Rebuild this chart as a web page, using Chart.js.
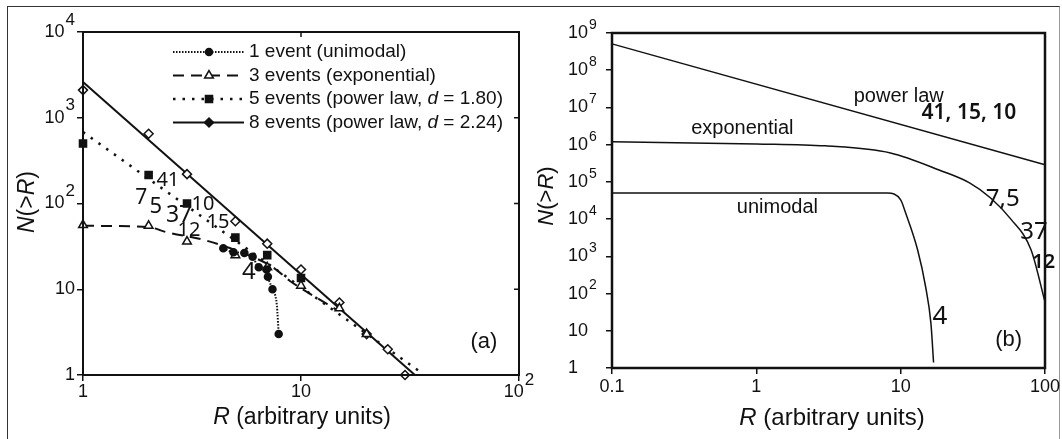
<!DOCTYPE html>
<html>
<head>
<meta charset="utf-8">
<title>N(&gt;R) vs R</title>
<script src="https://cdn.jsdelivr.net/npm/chart.js@4.4.1/dist/chart.umd.min.js"></script>
<style>
  html, body { margin: 0; padding: 0; background: #fff; }
  body { width: 1062px; height: 439px; position: relative; overflow: hidden; }
  #frame { position: absolute; left: 7px; top: 6px; width: 1053px; height: 470px;
           border-left: 1.5px solid #333; border-top: 1.5px solid #333; border-right: 1px solid #999; box-sizing: border-box; }
  canvas { position: absolute; left: 0; top: 0; }
</style>
</head>
<body>
<div id="frame"></div>
<canvas id="chartA" width="1062" height="439"></canvas>
<canvas id="chartB" width="1062" height="439"></canvas>
<script>
// ---- panel (a): measured N(>R) ----
const oneEventR = [4.4, 4.9, 5.5, 6.0, 6.4, 6.95, 7.05, 7.4, 7.9];
const oneEventN = [30, 27, 26.5, 24, 18, 17, 14, 10, 3];
// dotted curve through the 1-event points
const oneCurveR = [4.4, 4.9, 5.5, 6.0, 6.4, 6.95, 7.05, 7.4, 7.75, 7.9];
const oneCurveN = [30, 27, 26.5, 24, 18, 17, 14, 10, 6.5, 3];

const threeEventR = [1, 2, 3, 5, 7, 10, 15, 20];
const threeEventN = [56, 55, 36, 25, 18, 11, 6, 3];
const threeFitR = [1, 2, 2.4, 3.6, 5.1, 7.4, 8.9, 13.2, 14.5];
const threeFitN = [55, 53, 46.5, 37.5, 28, 18.2, 12.5, 6.7, 5.8];

const fiveEventR = [1, 2, 3, 5, 7, 10];
const fiveEventN = [500, 215, 100, 40, 25, 13.5];
const fiveFitR = [1, 35];
const fiveFitN = [680, 1.1];

const eightEventR = [1, 2, 3, 5, 7, 10, 15, 20, 25, 30];
const eightEventN = [2100, 650, 220, 62, 34, 17, 7, 3, 2, 1];
const eightFitR = [1, 33.3];
const eightFitN = [2610, 1];

const legendLabels = ['1 event (unimodal)', '3 events (exponential)',
  '5 events (power law, d = 1.80)', '8 events (power law, d = 2.24)'];

// ---- panel (b): model curves ----
const powerR = [0.1, 100];
const powerN = [5.1e8, 2.9e5];
const expoR = [0.1, 1, 3, 8.5, 19, 30, 42, 58, 80, 100];
const expoN = [1.19e6, 1.05e6, 9.3e5, 6.0e5, 2.0e5, 9.4e4, 3.7e4, 1.0e4, 1.5e3, 60];
const uniR = [0.1, 1, 8.1, 10, 10.8, 13.1, 14.9, 16.2, 16.9];
const uniN = [5e4, 5e4, 5e4, 3.3e4, 1.5e4, 1.5e3, 150, 16, 1.4];

// ---- ticks ----
const aTicksX = [1, 10, 100];
const aTickLabelsX = [['1'], ['10'], ['10', '2']];
const aTicksY = [1, 10, 100, 1000, 10000];
const aTickLabelsY = [['1'], ['10'], ['10', '2'], ['10', '3'], ['10', '4']];
const bTicksX = [0.1, 1, 10, 100];
const bTickLabelsX = [['0.1'], ['1'], ['10'], ['100']];
const bTicksY = [1, 10, 1e2, 1e3, 1e4, 1e5, 1e6, 1e7, 1e8, 1e9];
const bTickLabelsY = [['1'], ['10'], ['10', '2'], ['10', '3'], ['10', '4'], ['10', '5'],
  ['10', '6'], ['10', '7'], ['10', '8'], ['10', '9']];

const INK = '#111';
const TEXT_FONT = '"Liberation Sans", Arial, sans-serif';
const DIGIT_FONT = '"Noto Sans", "Open Sans", sans-serif';

function pts(xs, ys) {
  return xs.map((x, i) => ({ x: x, y: ys[i] }));
}

function setFont(ctx, size, family, italic, weight) {
  ctx.font = (italic ? 'italic ' : '') + (weight || 'normal') + ' ' + size + 'px ' + family;
}

// pieces: [[text, italic], ...]
function drawRich(ctx, pieces, x, y, size, family, align) {
  let total = 0;
  const widths = pieces.map(([t, it]) => {
    setFont(ctx, size, family, it);
    const w = ctx.measureText(t).width;
    total += w;
    return w;
  });
  let cx = align === 'center' ? x - total / 2 : align === 'right' ? x - total : x;
  ctx.textAlign = 'left';
  ctx.textBaseline = 'middle';
  pieces.forEach(([t, it], i) => {
    setFont(ctx, size, family, it);
    ctx.fillText(t, cx, y);
    cx += widths[i];
  });
}

function drawTickLabel(ctx, parts, x, y, align, cfg) {
  const base = parts[0], sup = parts[1];
  setFont(ctx, cfg.tickSize, TEXT_FONT);
  const wb = ctx.measureText(base).width;
  setFont(ctx, cfg.supSize, TEXT_FONT);
  const ws = sup ? ctx.measureText(sup).width + 1 : 0;
  const total = wb + ws;
  const x0 = align === 'right' ? x - total : align === 'center' ? x - total / 2 : x;
  ctx.textAlign = 'left';
  ctx.textBaseline = 'middle';
  setFont(ctx, cfg.tickSize, TEXT_FONT);
  ctx.fillText(base, x0, y);
  if (sup) {
    setFont(ctx, cfg.supSize, TEXT_FONT);
    ctx.fillText(sup, x0 + wb + 1, y - cfg.supRise);
  }
}

function drawMarker(ctx, ds, x, y, fill) {
  ctx.save();
  ctx.fillStyle = fill || ds.pointBackgroundColor;
  ctx.strokeStyle = ds.pointBorderColor;
  ctx.lineWidth = ds.pointBorderWidth;
  ctx.setLineDash([]);
  if (Chart.helpers && Chart.helpers.drawPoint) {
    Chart.helpers.drawPoint(ctx, { pointStyle: ds.pointStyle, radius: ds.pointRadius, rotation: 0, borderWidth: ds.pointBorderWidth }, x, y);
  } else {
    ctx.beginPath(); ctx.arc(x, y, ds.pointRadius, 0, Math.PI * 2); ctx.fill(); ctx.stroke();
  }
  ctx.restore();
}

// frame, tick labels, titles, notes and legend
function makeDecor(cfg) {
  return {
    id: 'decor' + cfg.name,
    afterDraw(chart) {
      const ctx = chart.ctx, a = chart.chartArea;
      const xs = chart.scales.x, ys = chart.scales.y;
      ctx.save();
      ctx.strokeStyle = INK;
      ctx.lineWidth = cfg.frameWidth;
      ctx.strokeRect(a.left, a.top, a.right - a.left, a.bottom - a.top);

      if (cfg.innerTicks) {
        ctx.lineWidth = 1.5;
        ctx.beginPath();
        cfg.yTicks.slice(1, -1).forEach(v => {
          const py = ys.getPixelForValue(v);
          ctx.moveTo(a.right, py); ctx.lineTo(a.right - 5, py);
        });
        cfg.xTicks.slice(1, -1).forEach(v => {
          const px = xs.getPixelForValue(v);
          ctx.moveTo(px, a.top); ctx.lineTo(px, a.top + 5);
        });
        ctx.stroke();
      }

      ctx.fillStyle = INK;
      cfg.xTicks.forEach((v, i) => drawTickLabel(ctx, cfg.xLabels[i], xs.getPixelForValue(v), cfg.xLabelY, 'center', cfg));
      cfg.yTicks.forEach((v, i) => drawTickLabel(ctx, cfg.yLabels[i], cfg.yLabelX, ys.getPixelForValue(v), cfg.yAlign, cfg));

      drawRich(ctx, [['R', true], [' (arbitrary units)', false]], cfg.xTitle.x, cfg.xTitle.y, cfg.xTitle.size, TEXT_FONT, 'center');
      ctx.save();
      ctx.translate(cfg.yTitle.x, cfg.yTitle.y);
      ctx.rotate(-Math.PI / 2);
      drawRich(ctx, [['N', true], ['(>', false], ['R', true], [')', false]], 0, 0, cfg.yTitle.size, TEXT_FONT, 'center');
      ctx.restore();

      cfg.notes.forEach(n => {
        setFont(ctx, n.size, n.font || DIGIT_FONT, false, n.weight);
        ctx.textAlign = 'center';
        ctx.textBaseline = 'middle';
        ctx.fillText(n.t, xs.getPixelForValue(n.R), ys.getPixelForValue(n.N));
      });

      if (cfg.legend) {
        const lg = cfg.legend;
        lg.items.forEach((it, i) => {
          const y = lg.y0 + i * lg.dy;
          const lds = chart.data.datasets[it.line];
          const mds = chart.data.datasets[it.mark];
          ctx.save();
          ctx.strokeStyle = INK;
          ctx.lineWidth = lds.borderWidth;
          ctx.setLineDash(lds.borderDash || []);
          ctx.beginPath();
          ctx.moveTo(lg.x0, y); ctx.lineTo(lg.x1, y);
          ctx.stroke();
          ctx.restore();
          drawMarker(ctx, mds, lg.xm, y, it.fill);
          const pieces = legendLabels[i].split(/(\bd\b)/).filter(Boolean).map(s => [s, s === 'd']);
          ctx.fillStyle = INK;
          drawRich(ctx, pieces, lg.xt, y, lg.size, TEXT_FONT, 'left');
        });
      }
      ctx.restore();
    }
  };
}

function logAxis(min, max, ticks, position) {
  return {
    type: 'logarithmic', position: position, min: min, max: max,
    afterBuildTicks: (scale) => { scale.ticks = ticks.map(v => ({ value: v })); },
    ticks: { display: false },
    grid: { drawOnChartArea: false, drawTicks: true, tickLength: 6, color: INK, lineWidth: 1.5 },
    border: { display: true, color: INK, width: 2 }
  };
}

const line = (xs, ys, extra) => Object.assign({
  data: pts(xs, ys), showLine: true, pointRadius: 0, borderColor: INK,
  borderWidth: 2, fill: false, clip: false
}, extra);

const marks = (xs, ys, style, r, fill) => ({
  data: pts(xs, ys), showLine: false, pointStyle: style, pointRadius: r,
  pointBackgroundColor: fill, pointBorderColor: INK, pointBorderWidth: 1.5, clip: false
});

const baseOptions = (padding, xAxis, yAxis) => ({
  responsive: false,
  animation: false,
  devicePixelRatio: 1,
  events: [],
  layout: { padding: padding },
  plugins: { legend: { display: false }, tooltip: { enabled: false } },
  scales: { x: xAxis, y: yAxis }
});

// ---- panel (a) ----
const panelA = {
  name: 'A', frameWidth: 2, innerTicks: true,
  xTicks: aTicksX, xLabels: aTickLabelsX, xLabelY: 392,
  yTicks: aTicksY, yLabels: aTickLabelsY, yLabelX: 75, yAlign: 'right',
  tickSize: 18, supSize: 17, supRise: 12,
  xTitle: { x: 302, y: 418, size: 23 },
  yTitle: { x: 28, y: 202, size: 23 },
  notes: [
    { t: '41', R: 2.45, N: 188, size: 20 },
    { t: '7', R: 1.85, N: 116, size: 21 },
    { t: '5', R: 2.16, N: 91, size: 22 },
    { t: '37', R: 2.76, N: 73, size: 23 },
    { t: '10', R: 3.55, N: 99, size: 20 },
    { t: '15', R: 4.16, N: 61, size: 20 },
    { t: '12', R: 3.06, N: 49, size: 20 },
    { t: '4', R: 5.77, N: 15.9, size: 24 },
    { t: '(a)', R: 69, N: 2.43, size: 22, font: TEXT_FONT }
  ],
  legend: {
    x0: 173, x1: 244, xm: 209, xt: 249, y0: 52, dy: 23.5, size: 19,
    items: [
      { line: 4, mark: 0 },
      { line: 5, mark: 2 },
      { line: 6, mark: 1 },
      { line: 7, mark: 3, fill: INK }
    ]
  }
};

new Chart(document.getElementById('chartA'), {
  type: 'scatter',
  data: {
    datasets: [
      marks(oneEventR, oneEventN, 'circle', 3.5, INK),
      marks(fiveEventR, fiveEventN, 'rect', 5, INK),
      marks(threeEventR, threeEventN, 'triangle', 5, '#fff'),
      marks(eightEventR, eightEventN, 'rectRot', 4.5, '#fff'),
      line(oneCurveR, oneCurveN, { borderDash: [1.5, 1.5], cubicInterpolationMode: 'monotone' }),
      line(threeFitR, threeFitN, { borderDash: [11, 7], cubicInterpolationMode: 'monotone' }),
      line(fiveFitR, fiveFitN, { borderDash: [2.5, 7], borderWidth: 2.5 }),
      line(eightFitR, eightFitN, {})
    ]
  },
  options: baseOptions({ left: 77, right: 543, top: 32, bottom: 58 },
    logAxis(1, 100, aTicksX, 'bottom'), logAxis(1, 10000, aTicksY, 'left')),
  plugins: [makeDecor(panelA)]
});

// ---- panel (b) ----
const panelB = {
  name: 'B', frameWidth: 2.5, innerTicks: false,
  xTicks: bTicksX, xLabels: bTickLabelsX, xLabelY: 387,
  yTicks: bTicksY, yLabels: bTickLabelsY, yLabelX: 568, yAlign: 'left',
  tickSize: 18, supSize: 14, supRise: 8,
  xTitle: { x: 832, y: 418, size: 24 },
  yTitle: { x: 547, y: 196, size: 22 },
  notes: [
    { t: 'power law', R: 9.7, N: 1.93e7, size: 20, font: TEXT_FONT },
    { t: '41, 15, 10', R: 29.7, N: 7.2e6, size: 21, weight: 600 },
    { t: 'exponential', R: 0.8, N: 2.8e6, size: 20, font: TEXT_FONT },
    { t: 'unimodal', R: 1.4, N: 2.1e4, size: 20, font: TEXT_FONT },
    { t: '7,5', R: 51, N: 3.5e4, size: 24 },
    { t: '37', R: 84, N: 4.5e3, size: 24 },
    { t: '12', R: 98, N: 707, size: 20, weight: 600 },
    { t: '4', R: 18.7, N: 23.5, size: 26 },
    { t: '(b)', R: 56, N: 5.7, size: 22, font: TEXT_FONT }
  ],
  legend: null
};

new Chart(document.getElementById('chartB'), {
  type: 'scatter',
  data: {
    datasets: [
      line(powerR, powerN, { borderWidth: 1.5 }),
      line(expoR, expoN, { borderWidth: 1.5, cubicInterpolationMode: 'monotone' }),
      line(uniR, uniN, { borderWidth: 1.5, cubicInterpolationMode: 'monotone' })
    ]
  },
  options: baseOptions({ left: 606, right: 17, top: 33, bottom: 65 },
    logAxis(0.1, 100, bTicksX, 'bottom'), logAxis(1, 1e9, bTicksY, 'left')),
  plugins: [makeDecor(panelB)]
});
</script>
</body>
</html>
